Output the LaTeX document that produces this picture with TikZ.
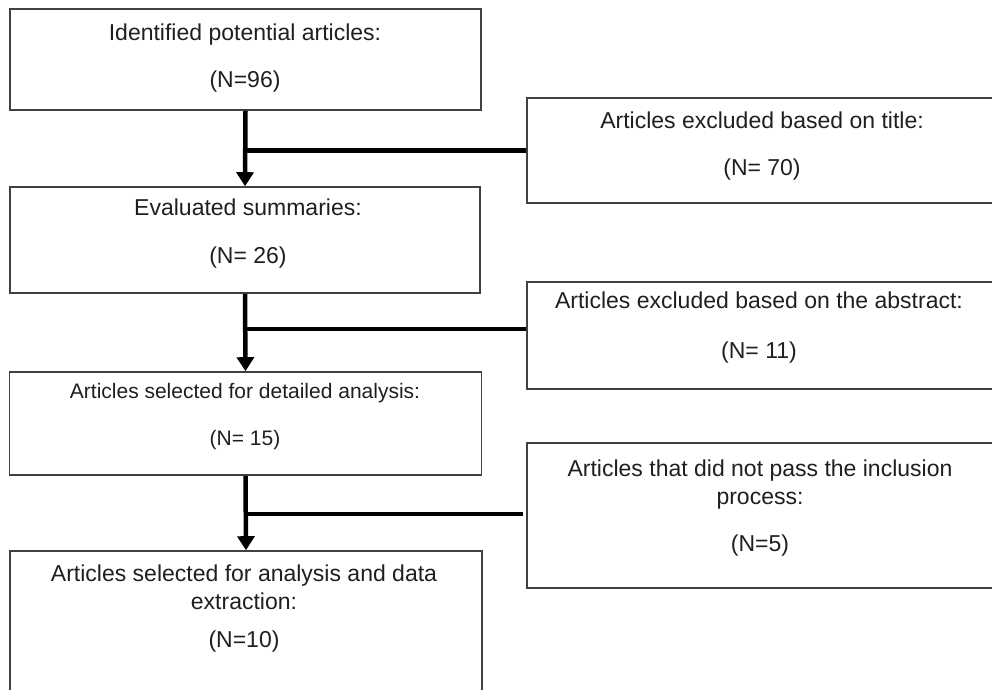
\documentclass[tikz,border=0pt]{standalone}
\usepackage{fontspec}
\setmainfont{Liberation Sans}
\usetikzlibrary{arrows.meta}
\begin{document}
\begin{tikzpicture}[x=1pt,y=-1pt,
  boxshape/.style={draw=black!75, line width=1.6pt, rectangle, inner sep=0pt},
  txt/.style={align=center, text=black!88, font=\fontsize{23}{28.5}\selectfont, inner sep=0pt},
  txtsmall/.style={txt, font=\fontsize{21}{26}\selectfont},
  flow/.style={line width=4.5pt, draw=black},
  arr/.style={flow, -{Triangle[width=17pt,length=14pt]}}
]
\useasboundingbox (0,0) rectangle (992,689);
\clip (0,0) rectangle (992,689);

% left column
\node[boxshape, minimum width=471pt, minimum height=101pt] (b1) at (245.5,59.5) {};
\node[txt] (t1) at (245,58.5) {Identified potential articles:\\[18.5pt](N=96)};

\node[boxshape, minimum width=470pt, minimum height=106pt] (b2) at (245,240) {};
\node[txt] (t2) at (248,233.5) {Evaluated summaries:\\[19.5pt](N= 26)};

\node[boxshape, minimum width=472pt, minimum height=103pt] (b3) at (245.5,423.5) {};
\node[txtsmall] (t3) at (245,417) {Articles selected for detailed analysis:\\[21pt](N= 15)};

\node[boxshape, minimum width=472pt, minimum height=149pt] (b4) at (246,625.5) {};
\node[txt] (t4) at (244,608.5) {Articles selected for analysis and data\\extraction:\\[9.5pt](N=10)};

% right column
\node[boxshape, minimum width=473pt, minimum height=105pt] (rb1) at (763.5,150.5) {};
\node[txt] (rt1) at (762,146) {Articles excluded based on title:\\[18.5pt](N= 70)};

\node[boxshape, minimum width=473pt, minimum height=107pt] (rb2) at (763.5,335.5) {};
\node[txt] (rt2) at (759,328) {Articles excluded based on the abstract:\\[21.5pt](N= 11)};

\node[boxshape, minimum width=473pt, minimum height=145pt] (rb3) at (763.5,515.5) {};
\node[txt] (rt3) at (760,508) {Articles that did not pass the inclusion\\process:\\[18.5pt](N=5)};

% connectors
\coordinate (j2) at (b2.south |- 0,329);
\coordinate (j3) at (b3.south |- 0,514);

\draw[arr] (b1.south) -- (b2.north);
\draw[arr] (b2.south) -- (b3.north);
\draw[arr] (b3.south) -- (b4.north);

\draw[flow] (rb1.west) -- (rb1.west -| b1.south);
\draw[flow] (j2) -- (j2 -| rb2.west);
\draw[flow, shorten >=3pt] (j3) -- (j3 -| rb3.west);
\end{tikzpicture}
\end{document}
